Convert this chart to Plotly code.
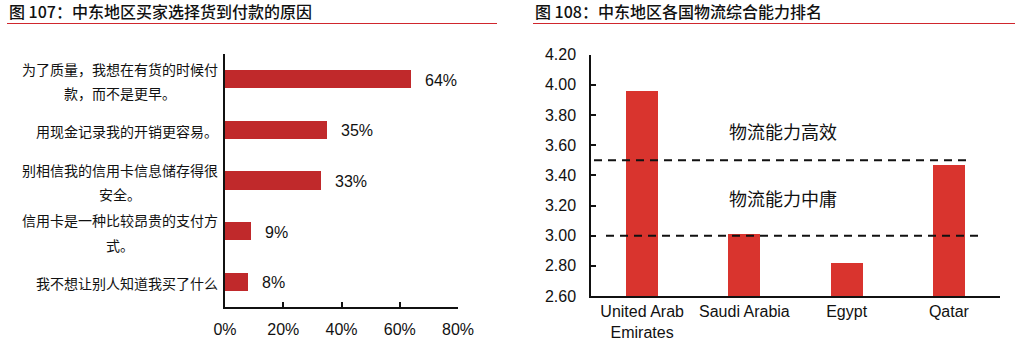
import plotly.graph_objects as go

W, H = 1016, 354

# ---------------- data ----------------
reasons = [
    "为了质量，我想在有货的时候付<br>款，而不是更早。",
    "用现金记录我的开销更容易。",
    "别相信我的信用卡信息储存得很<br>安全。",
    "信用卡是一种比较昂贵的支付方<br>式。",
    "我不想让别人知道我买了什么",
]
shares = [0.64, 0.35, 0.33, 0.09, 0.08]
share_ticks = [0, 0.2, 0.4, 0.6, 0.8]

countries = ["United Arab<br>Emirates", "Saudi Arabia", "Egypt", "Qatar"]
lpi = [3.96, 3.01, 2.82, 3.47]
lpi_ticks = [2.6, 2.8, 3.0, 3.2, 3.4, 3.6, 3.8, 4.0, 4.2]
thresholds = [3.5, 3.0]
zone_labels = ["物流能力高效", "物流能力中庸"]

title_left = "图 107：中东地区买家选择货到付款的原因"
title_right = "图 108：中东地区各国物流综合能力排名"

FONT = "Liberation Sans, Arial, Noto Sans CJK SC, sans-serif"
CJK = "Noto Sans CJK SC, Liberation Sans, sans-serif"

def px(x):
    return x / W

def py(y):
    return 1 - y / H

fig = go.Figure()

fig.add_trace(go.Bar(
    x=shares, y=list(range(len(shares))), orientation="h",
    width=0.36, marker=dict(color="#C0292B", line=dict(width=0)),
    xaxis="x", yaxis="y", hoverinfo="skip",
))
fig.add_trace(go.Bar(
    x=countries, y=lpi, width=0.313,
    marker=dict(color="#D9342E", line=dict(width=0)),
    xaxis="x2", yaxis="y2", hoverinfo="skip",
))

annotations = []
shapes = []

# left category labels (centered multi-line blocks, right edge at 218px)
for i, lab in enumerate(reasons):
    lines = lab.split("<br>")
    maxlen = max(len(l) for l in lines)
    cx = 218 - maxlen * 14 / 2
    n = len(lines)
    for j, line in enumerate(lines):
        off = (j - (n - 1) / 2) * 24.5
        annotations.append(dict(
            x=px(cx), xref="paper", y=i, yref="y", yshift=-off - 1.5,
            text=line, showarrow=False, xanchor="center", yanchor="middle",
            font=dict(family=CJK, size=14, color="#111111"),
        ))

# left value labels
for i, v in enumerate(shares):
    annotations.append(dict(
        x=v, xref="x", y=i, yref="y", xshift=12, yshift=-1,
        text=f"{v:.0%}", showarrow=False, xanchor="left", yanchor="middle",
        font=dict(family=FONT, size=16, color="#111111"),
    ))

# zone labels on right chart
for lab, yy in zip(zone_labels, [130.5, 198]):
    annotations.append(dict(
        x=px(783), xref="paper", y=py(yy), yref="paper",
        text=lab, showarrow=False, xanchor="center", yanchor="middle",
        font=dict(family=CJK, size=18, color="#111111"),
    ))

# titles
for t, x0, x1 in [(title_left, 7, 497), (title_right, 533, 1015)]:
    annotations.append(dict(
        x=px(x0), xref="paper", y=py(11.5), yref="paper",
        text=t, showarrow=False, xanchor="left", yanchor="middle",
        font=dict(family=CJK, size=16, color="#111111", weight=500),
    ))
    shapes.append(dict(
        type="line", xref="paper", yref="paper",
        x0=px(x0), x1=px(x1), y0=py(23.5), y1=py(23.5),
        line=dict(color="#D0262D", width=1),
    ))

# threshold dashed lines
for th, (xa, xb) in zip(thresholds, [(594, 970), (606, 981)]):
    shapes.append(dict(
        type="line", xref="paper", yref="y2",
        x0=px(xa), x1=px(xb), y0=th, y1=th,
        line=dict(color="#111111", width=2, dash="8px,6px"),
        layer="above",
    ))

axis_common = dict(
    showgrid=False, zeroline=False, showline=True, automargin=False,
    linecolor="#111111", linewidth=1.5,
    tickfont=dict(family=FONT, size=16, color="#111111"),
)

fig.update_layout(
    width=W, height=H,
    margin=dict(l=0, r=0, t=0, b=0, autoexpand=False),
    paper_bgcolor="white", plot_bgcolor="white",
    showlegend=False,
    bargap=0,
    font=dict(family=FONT, color="#111111"),
    xaxis=dict(
        domain=[px(225), px(458)], range=[0, 0.8], anchor="y",
        tickvals=share_ticks, tickformat=".0%",
        ticks="inside", ticklen=5, tickwidth=1.5, tickcolor="#111111",
        ticklabelstandoff=7,
        **axis_common,
    ),
    yaxis=dict(
        domain=[py(307), py(54)], range=[4.5, -0.5], anchor="x",
        showticklabels=False, ticks="",
        **axis_common,
    ),
    xaxis2=dict(
        domain=[px(591), px(1000)], anchor="y2", type="category",
        ticks="", ticklabelstandoff=0,
        **axis_common,
    ),
    yaxis2=dict(
        domain=[py(296), py(54.7)], range=[2.6, 4.2], anchor="x2",
        tickvals=lpi_ticks, tickformat=".2f",
        ticks="inside", ticklen=5, tickwidth=1.5, tickcolor="#111111",
        ticklabelstandoff=10,
        **axis_common,
    ),
    annotations=annotations,
    shapes=shapes,
)

fig.write_html("out.html")
